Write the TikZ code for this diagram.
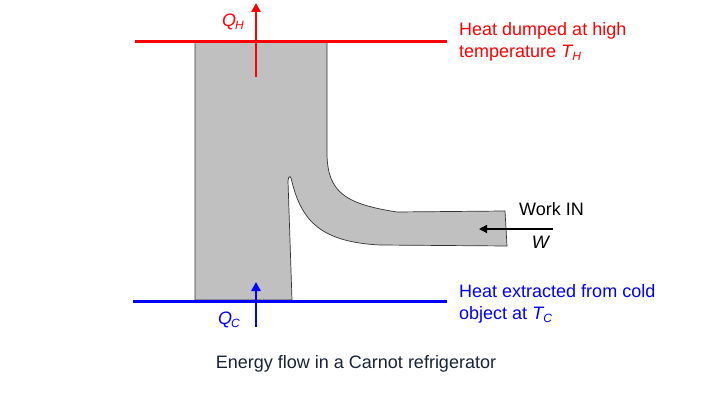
\documentclass[tikz,border=0pt]{standalone}
\usepackage{fontspec}
\setmainfont{Liberation Sans}
\usetikzlibrary{arrows.meta}
\definecolor{flowgray}{RGB}{192,192,192}
\definecolor{hotred}{RGB}{255,0,0}
\definecolor{coldblue}{RGB}{0,0,255}
\definecolor{captxt}{RGB}{23,35,55}
\tikzset{
  txt/.style={font=\fontsize{18}{22}\selectfont, inner sep=0pt, align=left},
  heatline/.style={line width=3pt},
  heatarrow/.style={line width=2.6pt, -{Triangle[length=9pt,width=9pt]}},
  workarrow/.style={line width=1.6pt, -{Triangle[length=8pt,width=8pt]}}
}
\newcommand{\qsub}[2]{\textit{#1}\kern-0.05em\raisebox{-0.3ex}{\fontsize{12}{12}\selectfont\textit{#2}}}
\begin{document}
\begin{tikzpicture}[x=1pt,y=-1pt]
\useasboundingbox (0,0) rectangle (720,398);
% flow band
\draw[fill=flowgray, line width=0.7pt, draw=black!80]
  (195,300) -- (195,42) -- (327,42) -- (327,155)
  .. controls (328,192) and (345,204) .. (397,212)
  -- (505,211) -- (507,246) -- (380,245)
  .. controls (322,242) and (302,222) .. (292,182)
  .. controls (291,176) and (289,174) .. (288,181)
  -- (292,300) -- cycle;
% reservoirs
\draw[hotred, heatline] (135,42) -- (447,42);
\draw[coldblue, heatline] (133,301) -- (447,301);
% heat arrows
\coordinate (qhs) at (256,77);
\coordinate (qhe) at (256,3);
\draw[hotred, heatarrow] (qhs) -- (qhe);
\coordinate (qcs) at (256,327);
\coordinate (qce) at (256,282);
\draw[coldblue, heatarrow] (qcs) -- (qce);
% work arrow
\coordinate (ws) at (553,229);
\coordinate (we) at (479,229);
\draw[black, workarrow] (ws) -- (we);
% labels
\node[txt, text=hotred] (qh) at (233,22) {\qsub{Q}{H}};
\node[txt, text=coldblue] (qc) at (229,320) {\qsub{Q}{C}};
\node[txt, text=hotred, anchor=north west] (hot) at (459,22) {Heat dumped at high\\temperature \qsub{T}{H}};
\node[txt, text=coldblue, anchor=north west] (cold) at (459,284) {Heat extracted from cold\\object at \qsub{T}{C}};
\node[txt, anchor=west] (work) at (519,209) {Work IN};
\node[txt] (wl) at (541,242) {\textit{W}};
\node[txt, text=captxt] (cap) at (356,364) {Energy flow in a Carnot refrigerator};
\end{tikzpicture}
\end{document}
